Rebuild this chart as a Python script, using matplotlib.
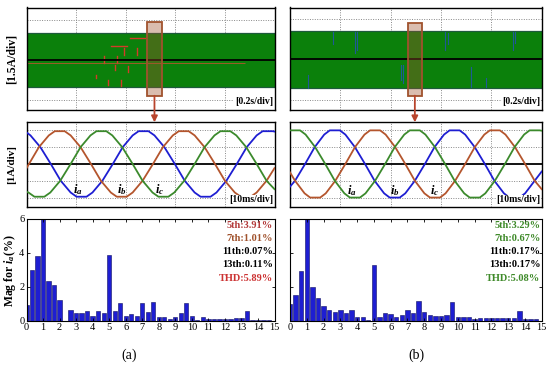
import numpy as np
import matplotlib.pyplot as plt
from matplotlib.patches import Rectangle, ConnectionPatch

plt.rcParams['font.family'] = ['Liberation Serif', 'DejaVu Serif']
plt.rcParams['mathtext.fontset'] = 'custom'
plt.rcParams['mathtext.rm'] = 'Liberation Serif:bold'
plt.rcParams['mathtext.it'] = 'Liberation Serif:italic:bold'
plt.rcParams['mathtext.bf'] = 'Liberation Serif:bold'

# ---- top panels: long-time current envelope (in divisions) ----
band_a = [-1.37, 1.35]
band_b = [-1.40, 1.38]
# red glitches inside the band of (a): t0, t1, v0, v1
glitch_a = [(1.71, 2.02, 0.70, 0.70), (2.09, 2.39, 1.08, 1.08),
            (1.56, 1.56, 0.17, -0.17), (1.83, 1.83, 0.20, -0.17),
            (1.96, 1.96, 0.58, 0.25), (2.22, 2.22, 0.58, 0.25),
            (1.40, 1.40, -0.75, -0.90), (1.65, 1.65, -1.00, -1.25),
            (1.78, 1.78, -0.25, -0.50), (1.90, 1.90, -1.00, -1.30),
            (2.05, 2.05, -0.30, -0.60)]
# blue spikes inside the band of (b)
glitch_b = [(0.36, -0.80, -1.40), (0.85, 1.35, 0.75), (1.29, 1.35, 0.30),
            (1.34, 1.35, 0.45), (2.20, -0.30, -1.00), (2.25, -0.30, -1.15),
            (3.08, 1.35, 0.45), (3.14, 1.30, 0.75), (3.60, -0.40, -1.35),
            (3.90, -0.90, -1.35), (4.43, 1.35, 0.45), (4.47, 1.35, 0.80)]
zoom_a = [2.43, 2.73, -1.79, 1.87]
zoom_b = [2.34, 2.62, -1.79, 1.79]

# ---- middle panels: phase currents (t in div, i in div) ----
ta_a = [0.0, 0.08, 0.28, 0.49, 0.69, 0.89, 1.01, 1.21, 1.33, 1.53, 1.74, 1.94, 2.14,
        2.26, 2.46, 2.58, 2.78, 2.99, 3.19, 3.39, 3.51, 3.71, 3.83, 4.03, 4.24, 4.44,
        4.64, 4.76, 4.96, 5.0]
ia_a = [1.88, 1.7, 1.0, 0.0, -1.0, -1.7, -1.95, -1.95, -1.7, -1.0, 0.0, 1.0, 1.7,
        1.95, 1.95, 1.7, 1.0, 0.0, -1.0, -1.7, -1.95, -1.95, -1.7, -1.0, 0.0, 1.0,
        1.7, 1.95, 1.95, 1.93]
tb_a = [0.0, 0.05, 0.25, 0.45, 0.57, 0.77, 0.89, 1.09, 1.30, 1.50, 1.70, 1.82, 2.02,
        2.14, 2.34, 2.55, 2.75, 2.95, 3.07, 3.27, 3.39, 3.59, 3.80, 4.00, 4.20, 4.32,
        4.52, 4.64, 4.84, 5.0]
ib_a = [-0.25, 0.0, 1.0, 1.7, 1.95, 1.95, 1.7, 1.0, 0.0, -1.0, -1.7, -1.95, -1.95,
        -1.7, -1.0, 0.0, 1.0, 1.7, 1.95, 1.95, 1.7, 1.0, 0.0, -1.0, -1.7, -1.95,
        -1.95, -1.7, -1.0, -0.25]
tc_a = [0.0, 0.04, 0.16, 0.36, 0.48, 0.68, 0.89, 1.09, 1.29, 1.41, 1.61, 1.73, 1.93,
        2.14, 2.34, 2.54, 2.66, 2.86, 2.98, 3.18, 3.39, 3.59, 3.79, 3.91, 4.11, 4.23,
        4.43, 4.64, 4.84, 5.0]
ic_a = [-1.65, -1.7, -1.95, -1.95, -1.7, -1.0, 0.0, 1.0, 1.7, 1.95, 1.95, 1.7, 1.0,
        0.0, -1.0, -1.7, -1.95, -1.95, -1.7, -1.0, 0.0, 1.0, 1.7, 1.95, 1.95, 1.7,
        1.0, 0.0, -1.0, -1.5]

ta_b = [0.0, 0.1, 0.3, 0.49, 0.68, 0.79, 0.99, 1.1, 1.29, 1.49, 1.68, 1.87, 1.98,
        2.18, 2.29, 2.48, 2.68, 2.87, 3.06, 3.17, 3.37, 3.48, 3.67, 3.87, 4.06, 4.25,
        4.36, 4.56, 4.67, 4.86, 5.0]
ia_b = [-1.35, -1.0, 0.0, 1.0, 1.75, 2.0, 2.0, 1.75, 1.0, 0.0, -1.0, -1.75, -2.0,
        -2.0, -1.75, -1.0, 0.0, 1.0, 1.75, 2.0, 2.0, 1.75, 1.0, 0.0, -1.0, -1.75,
        -2.0, -2.0, -1.75, -1.0, -0.45]
tb_b = [0.0, 0.1, 0.29, 0.4, 0.6, 0.71, 0.9, 1.1, 1.29, 1.48, 1.59, 1.79, 1.9,
        2.09, 2.29, 2.48, 2.67, 2.78, 2.98, 3.09, 3.28, 3.48, 3.67, 3.86, 3.97, 4.17,
        4.28, 4.47, 4.67, 4.86, 5.0]
ib_b = [-0.5, -1.0, -1.75, -2.0, -2.0, -1.75, -1.0, 0.0, 1.0, 1.75, 2.0, 2.0, 1.75,
        1.0, 0.0, -1.0, -1.75, -2.0, -2.0, -1.75, -1.0, 0.0, 1.0, 1.75, 2.0, 2.0,
        1.75, 1.0, 0.0, -1.0, -1.5]
tc_b = [0.0, 0.2, 0.31, 0.5, 0.7, 0.89, 1.08, 1.19, 1.39, 1.5, 1.69, 1.89, 2.08,
        2.27, 2.38, 2.58, 2.69, 2.88, 3.08, 3.27, 3.46, 3.57, 3.77, 3.88, 4.07, 4.27,
        4.46, 4.65, 4.76, 4.96, 5.0]
ic_b = [2.0, 2.0, 1.75, 1.0, 0.0, -1.0, -1.75, -2.0, -2.0, -1.75, -1.0, 0.0, 1.0,
        1.75, 2.0, 2.0, 1.75, 1.0, 0.0, -1.0, -1.75, -2.0, -2.0, -1.75, -1.0, 0.0,
        1.0, 1.75, 2.0, 2.0, 1.98]
label_pos_a = [(1.03, -1.55), (1.92, -1.55), (2.69, -1.55)]
label_pos_b = [(1.22, -1.6), (2.08, -1.6), (2.87, -1.6)]

# ---- bottom panels: spectrum of i_a ----
bar_step = 1.0 / 3.0
mag_a = [0.9, 3.0, 3.8, 6.2, 2.35, 2.1, 1.2, 0.0, 0.65, 0.45, 0.45, 0.6, 0.3, 0.55,
         0.45, 3.9, 0.55, 1.05, 0.25, 0.38, 0.28, 1.02, 0.5, 1.1, 0.22, 0.22, 0.12,
         0.24, 0.45, 1.05, 0.3, 0.05, 0.2, 0.08, 0.12, 0.1, 0.1, 0.1, 0.14, 0.14,
         0.6, 0.05, 0.05, 0.04, 0.03]
mag_b = [1.0, 1.5, 2.92, 6.2, 1.98, 1.33, 0.89, 0.63, 0.5, 0.63, 0.44, 0.63, 0.24,
         0.24, 0.06, 3.31, 0.24, 0.44, 0.4, 0.2, 0.34, 0.63, 0.44, 1.19, 0.54, 0.36,
         0.3, 0.3, 0.36, 1.09, 0.22, 0.2, 0.2, 0.12, 0.16, 0.14, 0.14, 0.14, 0.14,
         0.14, 0.14, 0.6, 0.08, 0.08, 0.08]
notes_a = ['5th:3.91%', '7th:1.01%', '11th:0.07%', '13th:0.11%', 'THD:5.89%']
notes_b = ['5th:3.29%', '7th:0.67%', '11th:0.17%', '13th:0.17%', 'THD:5.08%']
note_colors_a = ['#b33a3a', '#a0522d', 'black', 'black', '#cc3333']
note_colors_b = ['#3f8a2a', '#3f8a2a', 'black', 'black', '#3f8a2a']

BLUE = '#1e1ed2'
BROWN = '#b4552d'
GREEN = '#3b8a2c'
BAND = '#0b800b'

fig = plt.figure(figsize=(5.5, 3.68), dpi=100)
cols = [(26.5 / 550, 248 / 550), (290 / 550, 251.7 / 550)]
rows = [(1 - 110 / 368, 102.5 / 368), (1 - 207.3 / 368, 85 / 368),
        (1 - 320.7 / 368, 101.7 / 368)]


def scope_axes(ax, ylim):
    ax.set_xlim(0, 5)
    ax.set_ylim(*ylim)
    for x in [1, 2, 3, 4]:
        ax.axvline(x, color='#888888', ls=(0, (1, 1.5)), lw=0.7, zorder=0)
    for y in [-2, -1, 1, 2]:
        ax.axhline(y, color='#888888', ls=(0, (1, 1.5)), lw=0.7, zorder=0)
    ax.axhline(0, color='black', lw=1.3, zorder=3)
    ax.set_xticks([])
    ax.set_yticks([])
    for s in ax.spines.values():
        s.set_linewidth(1.0)


axes_top, axes_mid, axes_bot = [], [], []
for k, (x0, w) in enumerate(cols):
    axes_top.append(fig.add_axes([x0, rows[0][0], w, rows[0][1]]))
    axes_mid.append(fig.add_axes([x0, rows[1][0], w, rows[1][1]]))
    axes_bot.append(fig.add_axes([x0, rows[2][0], w, rows[2][1]]))

# top panels
for k, ax in enumerate(axes_top):
    scope_axes(ax, (-2.5, 2.6) if k == 0 else (-2.5, 2.55))
    band = band_a if k == 0 else band_b
    ax.fill_between([0, 5], band[0], band[1], color=BAND, zorder=1, lw=0)
    ax.hlines(band, 0, 5, color='#1d5a3c', lw=0.9, zorder=2)
    if k == 0:
        for t0, t1, v0, v1 in glitch_a:
            ax.plot([t0, t1], [v0, v1], color='#d23c28', lw=1.0, zorder=2)
        ax.hlines(-0.15, 0, 4.4, color='#b4552d', lw=0.6, zorder=2)
    else:
        for t, v0, v1 in glitch_b:
            ax.plot([t, t], [v0, v1], color='#1e5a96', lw=0.8, zorder=2)
    z = zoom_a if k == 0 else zoom_b
    ax.add_patch(Rectangle((z[0], z[2]), z[1] - z[0], z[3] - z[2],
                           facecolor='#a0522d', alpha=0.38, lw=0, zorder=4))
    ax.add_patch(Rectangle((z[0], z[2]), z[1] - z[0], z[3] - z[2],
                           fill=False, edgecolor='#a0522d', lw=1.3, zorder=5))
    ax.text(0.995, 0.035, '[0.2s/div]', transform=ax.transAxes, ha='right',
            va='bottom', fontsize=7, fontweight='bold', zorder=6,
            bbox=dict(facecolor='white', edgecolor='none', pad=0.5))

# middle panels
waves = [
    [(ta_a, ia_a, BLUE), (tb_a, ib_a, BROWN), (tc_a, ic_a, GREEN)],
    [(ta_b, ia_b, BLUE), (tb_b, ib_b, BROWN), (tc_b, ic_b, GREEN)],
]
for k, ax in enumerate(axes_mid):
    scope_axes(ax, (-2.58, 2.48))
    for t, v, c in waves[k]:
        ax.plot(t, v, color=c, lw=1.3, zorder=4)
    pos = label_pos_a if k == 0 else label_pos_b
    for (x, y), name in zip(pos, ['$i_a$', '$i_b$', '$i_c$']):
        ax.text(x, y, name, fontsize=9, ha='center', va='center', zorder=6)
    ax.text(0.995, 0.035, '[10ms/div]', transform=ax.transAxes, ha='right',
            va='bottom', fontsize=7, fontweight='bold', zorder=6,
            bbox=dict(facecolor='white', edgecolor='none', pad=0.5))

# arrows from zoom boxes
for k in range(2):
    z = zoom_a if k == 0 else zoom_b
    xm = (z[0] + z[1]) / 2
    con = ConnectionPatch(xyA=(xm, z[2]), coordsA=axes_top[k].transData,
                          xyB=(xm, axes_mid[k].get_ylim()[1]),
                          coordsB=axes_mid[k].transData,
                          arrowstyle='-|>', color='#b8442c', lw=1.3,
                          mutation_scale=9)
    fig.add_artist(con)

# bottom panels
for k, ax in enumerate(axes_bot):
    mags = mag_a if k == 0 else mag_b
    xs = np.arange(len(mags)) * bar_step
    ax.bar(xs, mags, width=0.26, color=BLUE, edgecolor='#101060', lw=0.4)
    ax.set_xlim(0, 15)
    ax.set_ylim(0, 6)
    ax.set_xticks(range(16))
    ax.set_yticks([0, 2, 4, 6])
    ax.tick_params(direction='in', top=True, right=True, length=2.5, width=0.6,
                   labelsize=7.5, pad=1.5)
    if k == 1:
        ax.set_yticklabels([])
    notes = notes_a if k == 0 else notes_b
    ncol = note_colors_a if k == 0 else note_colors_b
    for j, (s, c) in enumerate(zip(notes, ncol)):
        ax.text(0.995, 0.941 - j * 0.131, s, transform=ax.transAxes, ha='right',
                va='center', fontsize=7.5, fontweight='bold', color=c)

fig.text(12 / 550, 1 - 59 / 368, '[1.5A/div]', rotation=90, ha='center',
         va='center', fontsize=8.5, fontweight='bold')
fig.text(12 / 550, 1 - 164.5 / 368, '[1A/div]', rotation=90, ha='center',
         va='center', fontsize=8, fontweight='bold')
fig.text(10 / 550, 1 - 271 / 368, 'Mag for $i_a$(%)', rotation=90, ha='center',
         va='center', fontsize=8.5, fontweight='bold')

fig.text(129 / 550, 1 - 355 / 368, '(a)', ha='center', va='center', fontsize=10)
fig.text(416 / 550, 1 - 355 / 368, '(b)', ha='center', va='center', fontsize=10)

fig.savefig('out.png', dpi=100)
